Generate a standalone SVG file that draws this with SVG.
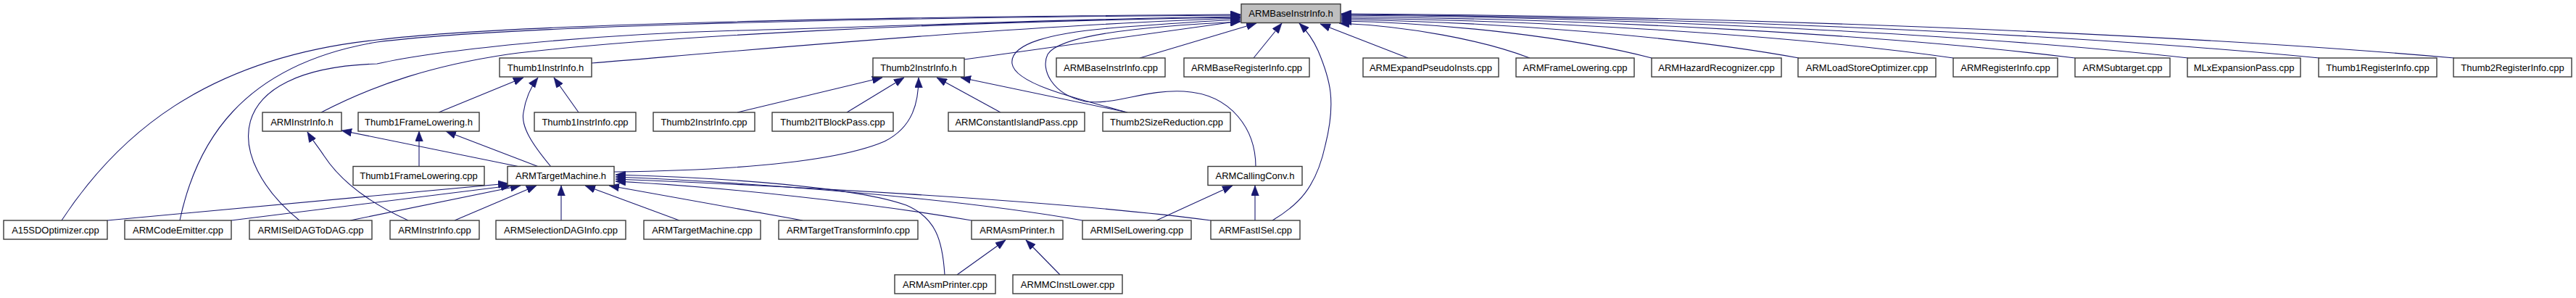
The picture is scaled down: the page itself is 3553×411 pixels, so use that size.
<svg xmlns="http://www.w3.org/2000/svg" width="3553" height="411" viewBox="0 0 3553 411">
<style>
.n rect{fill:#fff;stroke:#3a3a3a;stroke-width:1.4}
.n.root rect{fill:#bfbfbf}
.n text{font-family:"Liberation Sans",Arial,sans-serif;font-size:13px;text-anchor:middle;fill:#000}
.e path{fill:none;stroke:#191970;stroke-width:1.1;marker-end:url(#ah)}
</style>
<defs>
<marker id="ah" markerUnits="userSpaceOnUse" markerWidth="14" markerHeight="11" viewBox="0 0 13 10" refX="13" refY="5" orient="auto">
<path d="M0,0 L13,5 L0,10 Z" fill="#191970" stroke="#191970" stroke-width="0.5"/>
</marker>
</defs>
<rect width="3553" height="411" fill="#fff"/>
<g id="edges" class="e">
<!-- right fan into ARMBaseInstrInfo.h -->
<path d="M3385,80 C3001,46.5 2387,22 1850,19"/>
<path d="M3199,80 C2862,47 2322,23 1850,20"/>
<path d="M3018,80 C2726,47.5 2259,24 1850,21"/>
<path d="M2862,80 C2609,48.6 2204,26 1850,23"/>
<path d="M2694,80 C2483,49.8 2145,28 1850,25"/>
<path d="M2481,80 C2323,50.9 2071,30 1850,27"/>
<path d="M2278,80 C2171,52 2000,32 1850,29"/>
<path d="M2110,80 C2045,55 1941,36 1847,32"/>
<path d="M1942,80 L1821,33"/>
<path d="M1729,80 L1768,32"/>
<path d="M1572,80 L1733,32"/>
<!-- ARMFastISel -> ARMBaseInstrInfo.h -->
<path d="M1755,304 C1790,283 1815,260 1828,200 C1843,140 1835,110 1818,70 C1810,52 1800,40 1792,32"/>
<!-- left fan -->
<path d="M85,304 C160,190 280,80 520,55 C680,36 1100,24 1711,20"/>
<path d="M248,304 C270,200 330,90 520,58 C680,38 1100,25 1711,21"/>
<path d="M413,304 C310,220 300,95 520,88 C600,70 800,48 1020,42 C1250,36 1500,25 1711,23"/>
<path d="M443,155 C520,115 600,90 700,75 C900,50 1300,30 1711,24"/>
<path d="M816,87 C1000,72 1400,35 1711,25"/>
<path d="M1555,155 C1480,135 1400,115 1396,88 C1392,60 1450,45 1540,38 C1620,32 1680,28 1711,27"/>
<path d="M1330,82 L1711,29"/>
<path d="M1732,230 C1732,180 1700,130 1633,126 C1580,123 1540,145 1497,140 C1450,130 1435,95 1445,75 C1460,50 1560,37 1711,30"/>
<!-- Thumb1InstrInfo.h -->
<path d="M605,155 L722,107"/>
<path d="M760,230 C735,200 718,175 722,155 C725,135 732,120 742,107"/>
<path d="M798,155 L764,107"/>
<!-- Thumb1FrameLowering.h -->
<path d="M578,230 L578,181"/>
<path d="M743,230 L615,181"/>
<!-- ARMInstrInfo.h -->
<path d="M717,230 L471,180"/>
<path d="M563,304 C510,280 470,250 447,215 C440,204 430,192 424,182"/>
<!-- Thumb2InstrInfo.h -->
<path d="M1017,155 L1217,107"/>
<path d="M1168,155 L1247,107"/>
<path d="M847,237 C1000,235 1150,225 1220,195 C1260,175 1267,140 1267,107"/>
<path d="M1380,155 L1292,107"/>
<path d="M1555,155 L1325,107"/>
<!-- ARMTargetMachine.h -->
<path d="M148,304 L701,253"/>
<path d="M319,304 L705,256"/>
<path d="M483,304 L718,256"/>
<path d="M627,304 L740,256"/>
<path d="M774,304 L774,256"/>
<path d="M937,304 L807,256"/>
<path d="M1107,304 L840,256"/>
<path d="M1303,379 C1300,330 1290,300 1250,283 C1180,258 1000,245 849,241"/>
<path d="M1493,304 C1300,270 1000,250 849,244"/>
<path d="M1670,304 C1450,275 1050,255 849,247"/>
<path d="M1340,304 C1200,280 1000,258 849,250"/>
<!-- ARMAsmPrinter.h -->
<path d="M1320,379 L1387,331"/>
<path d="M1462,379 L1415,331"/>
<!-- ARMCallingConv.h -->
<path d="M1595,304 L1700,256"/>
<path d="M1731,304 L1731,256"/>
</g>
<g id="ARMBaseInstrInfo_h" class="n root"><rect x="1712" y="5.5" width="137" height="26"/><text x="1780.5" y="23">ARMBaseInstrInfo.h</text></g>
<g id="Thumb1InstrInfo_h" class="n"><rect x="689" y="80" width="127" height="26"/><text x="752.5" y="97.5">Thumb1InstrInfo.h</text></g>
<g id="Thumb2InstrInfo_h" class="n"><rect x="1204" y="80" width="126" height="26"/><text x="1267" y="97.5">Thumb2InstrInfo.h</text></g>
<g id="ARMBaseInstrInfo_cpp" class="n"><rect x="1457" y="80" width="150" height="26"/><text x="1532" y="97.5">ARMBaseInstrInfo.cpp</text></g>
<g id="ARMBaseRegisterInfo_cpp" class="n"><rect x="1633" y="80" width="173" height="26"/><text x="1719.5" y="97.5">ARMBaseRegisterInfo.cpp</text></g>
<g id="ARMExpandPseudoInsts_cpp" class="n"><rect x="1880" y="80" width="187" height="26"/><text x="1973.5" y="97.5">ARMExpandPseudoInsts.cpp</text></g>
<g id="ARMFrameLowering_cpp" class="n"><rect x="2091" y="80" width="163" height="26"/><text x="2172.5" y="97.5">ARMFrameLowering.cpp</text></g>
<g id="ARMHazardRecognizer_cpp" class="n"><rect x="2278" y="80" width="179" height="26"/><text x="2367.5" y="97.5">ARMHazardRecognizer.cpp</text></g>
<g id="ARMLoadStoreOptimizer_cpp" class="n"><rect x="2480" y="80" width="190" height="26"/><text x="2575" y="97.5">ARMLoadStoreOptimizer.cpp</text></g>
<g id="ARMRegisterInfo_cpp" class="n"><rect x="2694" y="80" width="144" height="26"/><text x="2766" y="97.5">ARMRegisterInfo.cpp</text></g>
<g id="ARMSubtarget_cpp" class="n"><rect x="2862" y="80" width="131" height="26"/><text x="2927.5" y="97.5">ARMSubtarget.cpp</text></g>
<g id="MLxExpansionPass_cpp" class="n"><rect x="3017" y="80" width="156" height="26"/><text x="3095" y="97.5">MLxExpansionPass.cpp</text></g>
<g id="Thumb1RegisterInfo_cpp" class="n"><rect x="3198" y="80" width="163" height="26"/><text x="3279.5" y="97.5">Thumb1RegisterInfo.cpp</text></g>
<g id="Thumb2RegisterInfo_cpp" class="n"><rect x="3384" y="80" width="163" height="26"/><text x="3465.5" y="97.5">Thumb2RegisterInfo.cpp</text></g>
<g id="ARMInstrInfo_h" class="n"><rect x="362" y="155" width="109" height="26"/><text x="416.5" y="172.5">ARMInstrInfo.h</text></g>
<g id="Thumb1FrameLowering_h" class="n"><rect x="494" y="155" width="167" height="26"/><text x="577.5" y="172.5">Thumb1FrameLowering.h</text></g>
<g id="Thumb1InstrInfo_cpp" class="n"><rect x="737" y="155" width="140" height="26"/><text x="807" y="172.5">Thumb1InstrInfo.cpp</text></g>
<g id="Thumb2InstrInfo_cpp" class="n"><rect x="901" y="155" width="140" height="26"/><text x="971" y="172.5">Thumb2InstrInfo.cpp</text></g>
<g id="Thumb2ITBlockPass_cpp" class="n"><rect x="1065" y="155" width="167" height="26"/><text x="1148.5" y="172.5">Thumb2ITBlockPass.cpp</text></g>
<g id="ARMConstantIslandPass_cpp" class="n"><rect x="1308" y="155" width="188" height="26"/><text x="1402" y="172.5">ARMConstantIslandPass.cpp</text></g>
<g id="Thumb2SizeReduction_cpp" class="n"><rect x="1521" y="155" width="176" height="26"/><text x="1609" y="172.5">Thumb2SizeReduction.cpp</text></g>
<g id="Thumb1FrameLowering_cpp" class="n"><rect x="487" y="229.5" width="181" height="26"/><text x="577.5" y="247">Thumb1FrameLowering.cpp</text></g>
<g id="ARMTargetMachine_h" class="n"><rect x="700" y="229.5" width="147" height="26"/><text x="773.5" y="247">ARMTargetMachine.h</text></g>
<g id="ARMCallingConv_h" class="n"><rect x="1666" y="229.5" width="130" height="26"/><text x="1731" y="247">ARMCallingConv.h</text></g>
<g id="A15SDOptimizer_cpp" class="n"><rect x="5" y="304" width="143" height="26"/><text x="76.5" y="321.5">A15SDOptimizer.cpp</text></g>
<g id="ARMCodeEmitter_cpp" class="n"><rect x="172" y="304" width="147" height="26"/><text x="245.5" y="321.5">ARMCodeEmitter.cpp</text></g>
<g id="ARMISelDAGToDAG_cpp" class="n"><rect x="344" y="304" width="169" height="26"/><text x="428.5" y="321.5">ARMISelDAGToDAG.cpp</text></g>
<g id="ARMInstrInfo_cpp" class="n"><rect x="538" y="304" width="123" height="26"/><text x="599.5" y="321.5">ARMInstrInfo.cpp</text></g>
<g id="ARMSelectionDAGInfo_cpp" class="n"><rect x="684" y="304" width="179" height="26"/><text x="773.5" y="321.5">ARMSelectionDAGInfo.cpp</text></g>
<g id="ARMTargetMachine_cpp" class="n"><rect x="888" y="304" width="161" height="26"/><text x="968.5" y="321.5">ARMTargetMachine.cpp</text></g>
<g id="ARMTargetTransformInfo_cpp" class="n"><rect x="1074" y="304" width="192" height="26"/><text x="1170" y="321.5">ARMTargetTransformInfo.cpp</text></g>
<g id="ARMAsmPrinter_h" class="n"><rect x="1340" y="304" width="126" height="26"/><text x="1403" y="321.5">ARMAsmPrinter.h</text></g>
<g id="ARMISelLowering_cpp" class="n"><rect x="1493" y="304" width="150" height="26"/><text x="1568" y="321.5">ARMISelLowering.cpp</text></g>
<g id="ARMFastISel_cpp" class="n"><rect x="1670" y="304" width="123" height="26"/><text x="1731.5" y="321.5">ARMFastISel.cpp</text></g>
<g id="ARMAsmPrinter_cpp" class="n"><rect x="1234" y="379" width="139" height="26"/><text x="1303.5" y="396.5">ARMAsmPrinter.cpp</text></g>
<g id="ARMMCInstLower_cpp" class="n"><rect x="1397" y="379" width="151" height="26"/><text x="1472.5" y="396.5">ARMMCInstLower.cpp</text></g>
</svg>
